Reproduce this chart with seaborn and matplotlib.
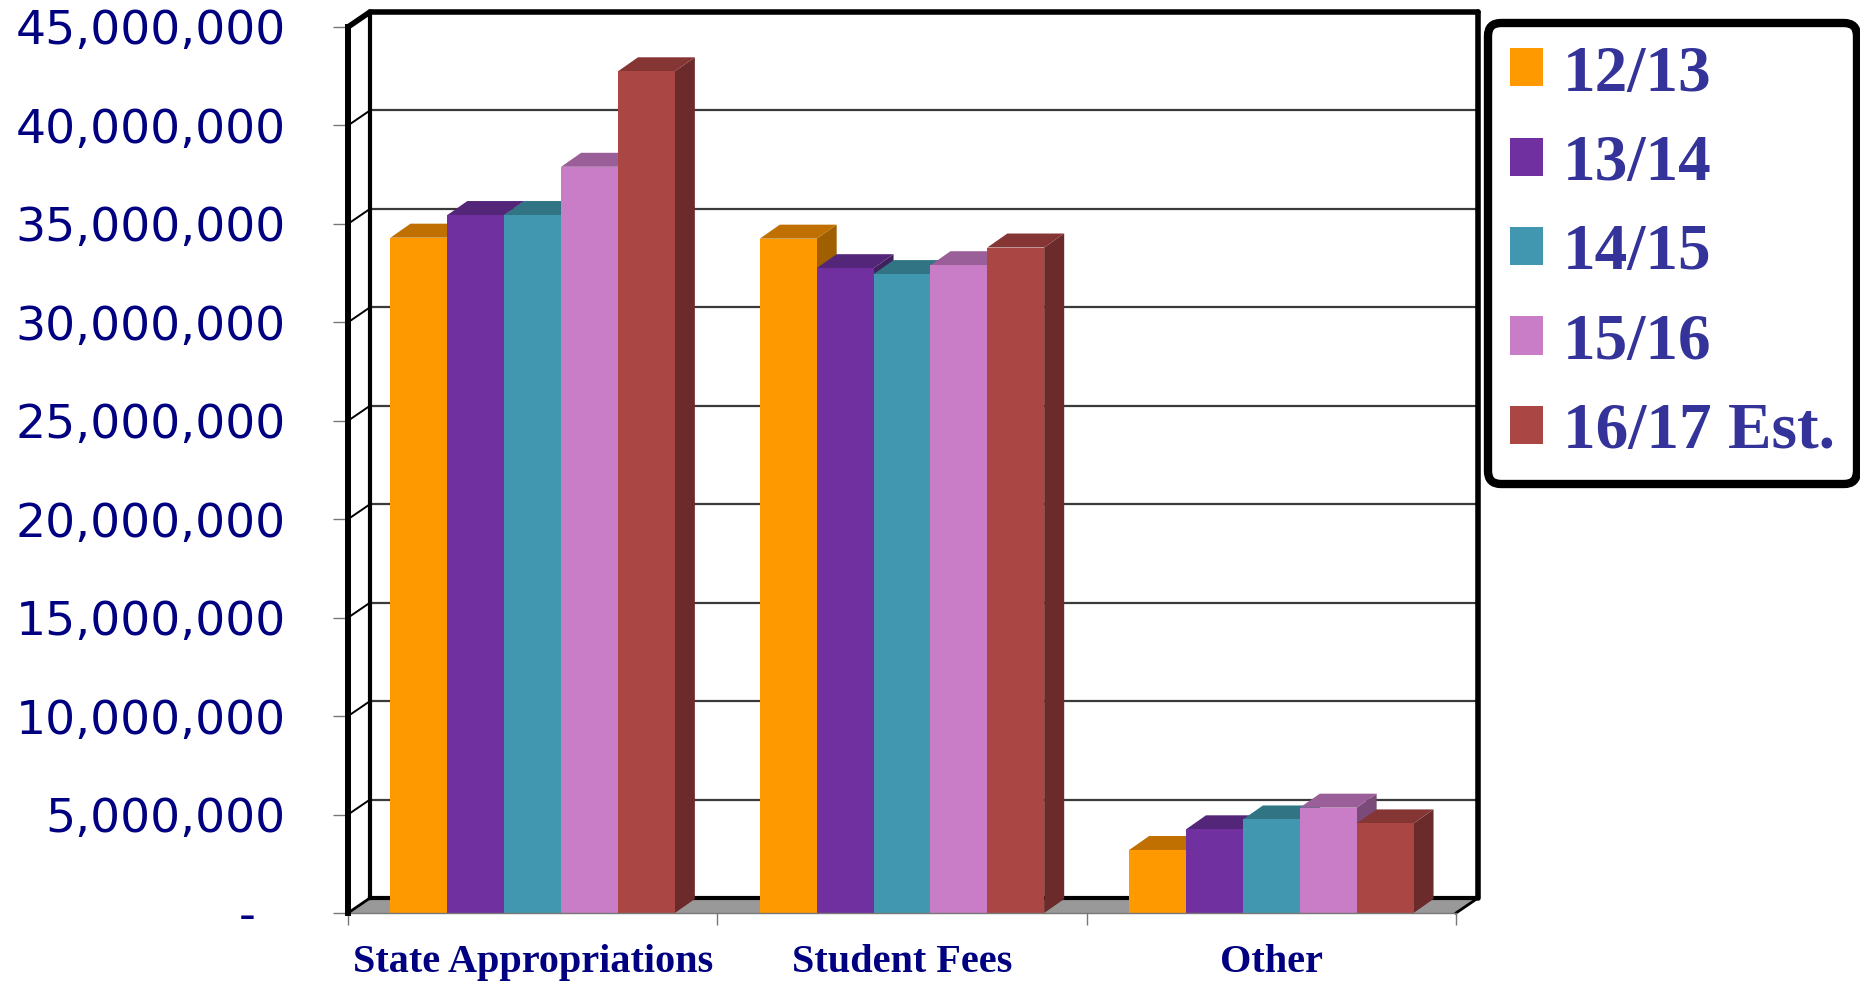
import numpy as np
import pandas as pd
import matplotlib
matplotlib.use("Agg")
import matplotlib.pyplot as plt
from matplotlib.patches import Polygon, Patch
import seaborn as sns

# Data
categories = ["State Appropriations", "Student Fees", "Other"]
years = ["12/13", "13/14", "14/15", "15/16", "16/17 Est."]
state_approp = [34300000, 35450000, 35450000, 37900000, 42750000]
student_fees = [34250000, 32750000, 32450000, 32900000, 33800000]
other = [3200000, 4250000, 4750000, 5350000, 4550000]

y_ticks = [0, 5000000, 10000000, 15000000, 20000000, 25000000,
           30000000, 35000000, 40000000, 45000000]

# colours: front, top, side
front_cols = ["#FF9900", "#7030A0", "#4197AF", "#C87DC6", "#AA4643"]
top_cols = ["#C07000", "#532679", "#317585", "#9A5F98", "#843534"]
side_cols = ["#A05F00", "#40205E", "#255865", "#7A4B78", "#6B2B2A"]

rows = []
for cat, vals in zip(categories, [state_approp, student_fees, other]):
    for yr, v in zip(years, vals):
        rows.append({"Category": cat, "Year": yr, "Value": v})
df = pd.DataFrame(rows)

navy = "#000080"
legend_blue = "#333399"

fig = plt.figure(figsize=(18.6, 9.81), dpi=100)
W, H = 1860, 981
ax = fig.add_axes([348 / W, (H - 913) / H, 1108 / W, 886 / H])

sns.barplot(data=df, x="Category", y="Value", hue="Year", palette=front_cols,
            width=0.77, saturation=1, errorbar=None, legend=False,
            linewidth=0, ax=ax)

# seaborn draws hue by hue -> remember the series index of each bar
bar_info = [(p, k // len(categories)) for k, p in enumerate(ax.patches)]

ax.set_xlim(-0.5, 2.5)
ax.set_ylim(0, 45000000)
ax.set_xlabel("")
ax.set_ylabel("")

# pixel -> data offsets for the 3D look
def px_to_data(dx, dy):
    p0 = ax.transData.inverted().transform((0, 0))
    p1 = ax.transData.inverted().transform((dx, dy))
    return p1[0] - p0[0], p1[1] - p0[1]

wdx, wdy = px_to_data(22, 15)   # back wall depth
bdx, bdy = px_to_data(20, 14)   # bar depth

x0, x1 = -0.5, 2.5
ytop = y_ticks[-1]

# back wall gridlines
for yv in y_ticks[1:-1]:
    ax.plot([x0 + wdx, x1 + wdx], [yv + wdy, yv + wdy], color="#3a3a3a",
            lw=1.6, zorder=0.5, clip_on=False)
    # left wall diagonals
    ax.plot([x0, x0 + wdx], [yv, yv + wdy], color="black", lw=1.4,
            zorder=0.5, clip_on=False)

# floor
floor = Polygon([(x0, 0), (x1, 0), (x1 + wdx, wdy), (x0 + wdx, wdy)],
                closed=True, facecolor="#999999", edgecolor="none",
                zorder=0.6, clip_on=False)
ax.add_patch(floor)

# wall frame
ax.plot([x0 + wdx, x0 + wdx], [wdy, ytop + wdy], color="black", lw=3,
        zorder=0.7, clip_on=False)
ax.plot([x0 + wdx, x1 + wdx], [wdy, wdy], color="black", lw=3,
        zorder=0.7, clip_on=False)
ax.plot([x0 + wdx, x1 + wdx], [ytop + wdy, ytop + wdy], color="black",
        lw=4, zorder=0.7, clip_on=False, solid_capstyle="round")
ax.plot([x1 + wdx, x1 + wdx], [wdy, ytop + wdy], color="black", lw=4,
        zorder=0.7, clip_on=False, solid_capstyle="round")
ax.plot([x0, x0 + wdx], [ytop, ytop + wdy], color="black", lw=4,
        zorder=0.7, clip_on=False, solid_capstyle="round")
ax.plot([x0, x0 + wdx], [0, wdy], color="black", lw=2,
        zorder=0.7, clip_on=False)
ax.plot([x1, x1 + wdx], [0, wdy], color="black", lw=2,
        zorder=0.7, clip_on=False)

# 3D tops and sides for the bars, drawn left to right
bar_info.sort(key=lambda t: t[0].get_x())
for i, (bar, ci) in enumerate(bar_info):
    bx = bar.get_x()
    bw = bar.get_width()
    bh = bar.get_height()
    z = 2 + 0.01 * i
    side = Polygon([(bx + bw, 0), (bx + bw + bdx, bdy), (bx + bw + bdx, bh + bdy),
                    (bx + bw, bh)], closed=True, facecolor=side_cols[ci],
                   edgecolor="none", zorder=z, clip_on=False)
    top = Polygon([(bx, bh), (bx + bw, bh), (bx + bw + bdx, bh + bdy),
                   (bx + bdx, bh + bdy)], closed=True, facecolor=top_cols[ci],
                  edgecolor="none", zorder=z + 0.003, clip_on=False)
    ax.add_patch(side)
    ax.add_patch(top)
    bar.set_zorder(z + 0.006)

# spines
for s in ["top", "right"]:
    ax.spines[s].set_visible(False)
ax.spines["left"].set_linewidth(4.3)
ax.spines["left"].set_color("black")
ax.spines["left"].set_zorder(3)
ax.spines["bottom"].set_linewidth(1)
ax.spines["bottom"].set_color("#777777")

# y axis ticks
ax.set_yticks(y_ticks)
ax.set_yticklabels(["-  "] + [f"{v:,}" for v in y_ticks[1:]])
ax.tick_params(axis="y", length=10.8, width=1, color="#777777", pad=34,
               labelsize=34, labelcolor=navy)
for t in ax.get_yticklabels():
    t.set_family("DejaVu Sans")

# x axis: labels at centres, ticks at boundaries
ax.set_xticks([0, 1, 2])
ax.set_xticklabels(categories)
ax.set_xticks([-0.5, 0.5, 1.5, 2.5], minor=True)
ax.tick_params(axis="x", which="major", length=0, pad=22, labelsize=29,
               labelcolor=navy)
ax.tick_params(axis="x", which="minor", length=8.6, width=1, color="#777777")
for t in ax.get_xticklabels():
    t.set_family("Liberation Serif")
    t.set_fontweight("bold")

# legend
handles = [Patch(facecolor=c, edgecolor="none") for c in front_cols]
leg = ax.legend(handles, years, loc="upper left",
                bbox_to_anchor=(1488 / W, 1 - 23 / H),
                bbox_transform=fig.transFigure, borderaxespad=0,
                prop={"family": "Liberation Serif", "weight": "bold", "size": 47},
                labelcolor=legend_blue, handlelength=0.52, handleheight=0.52,
                handletextpad=0.3, labelspacing=0.45, borderpad=0.33,
                frameon=True, fancybox=True, framealpha=1)
leg.get_frame().set_linewidth(6)
leg.get_frame().set_edgecolor("black")

fig.savefig("out.png", dpi=100)
